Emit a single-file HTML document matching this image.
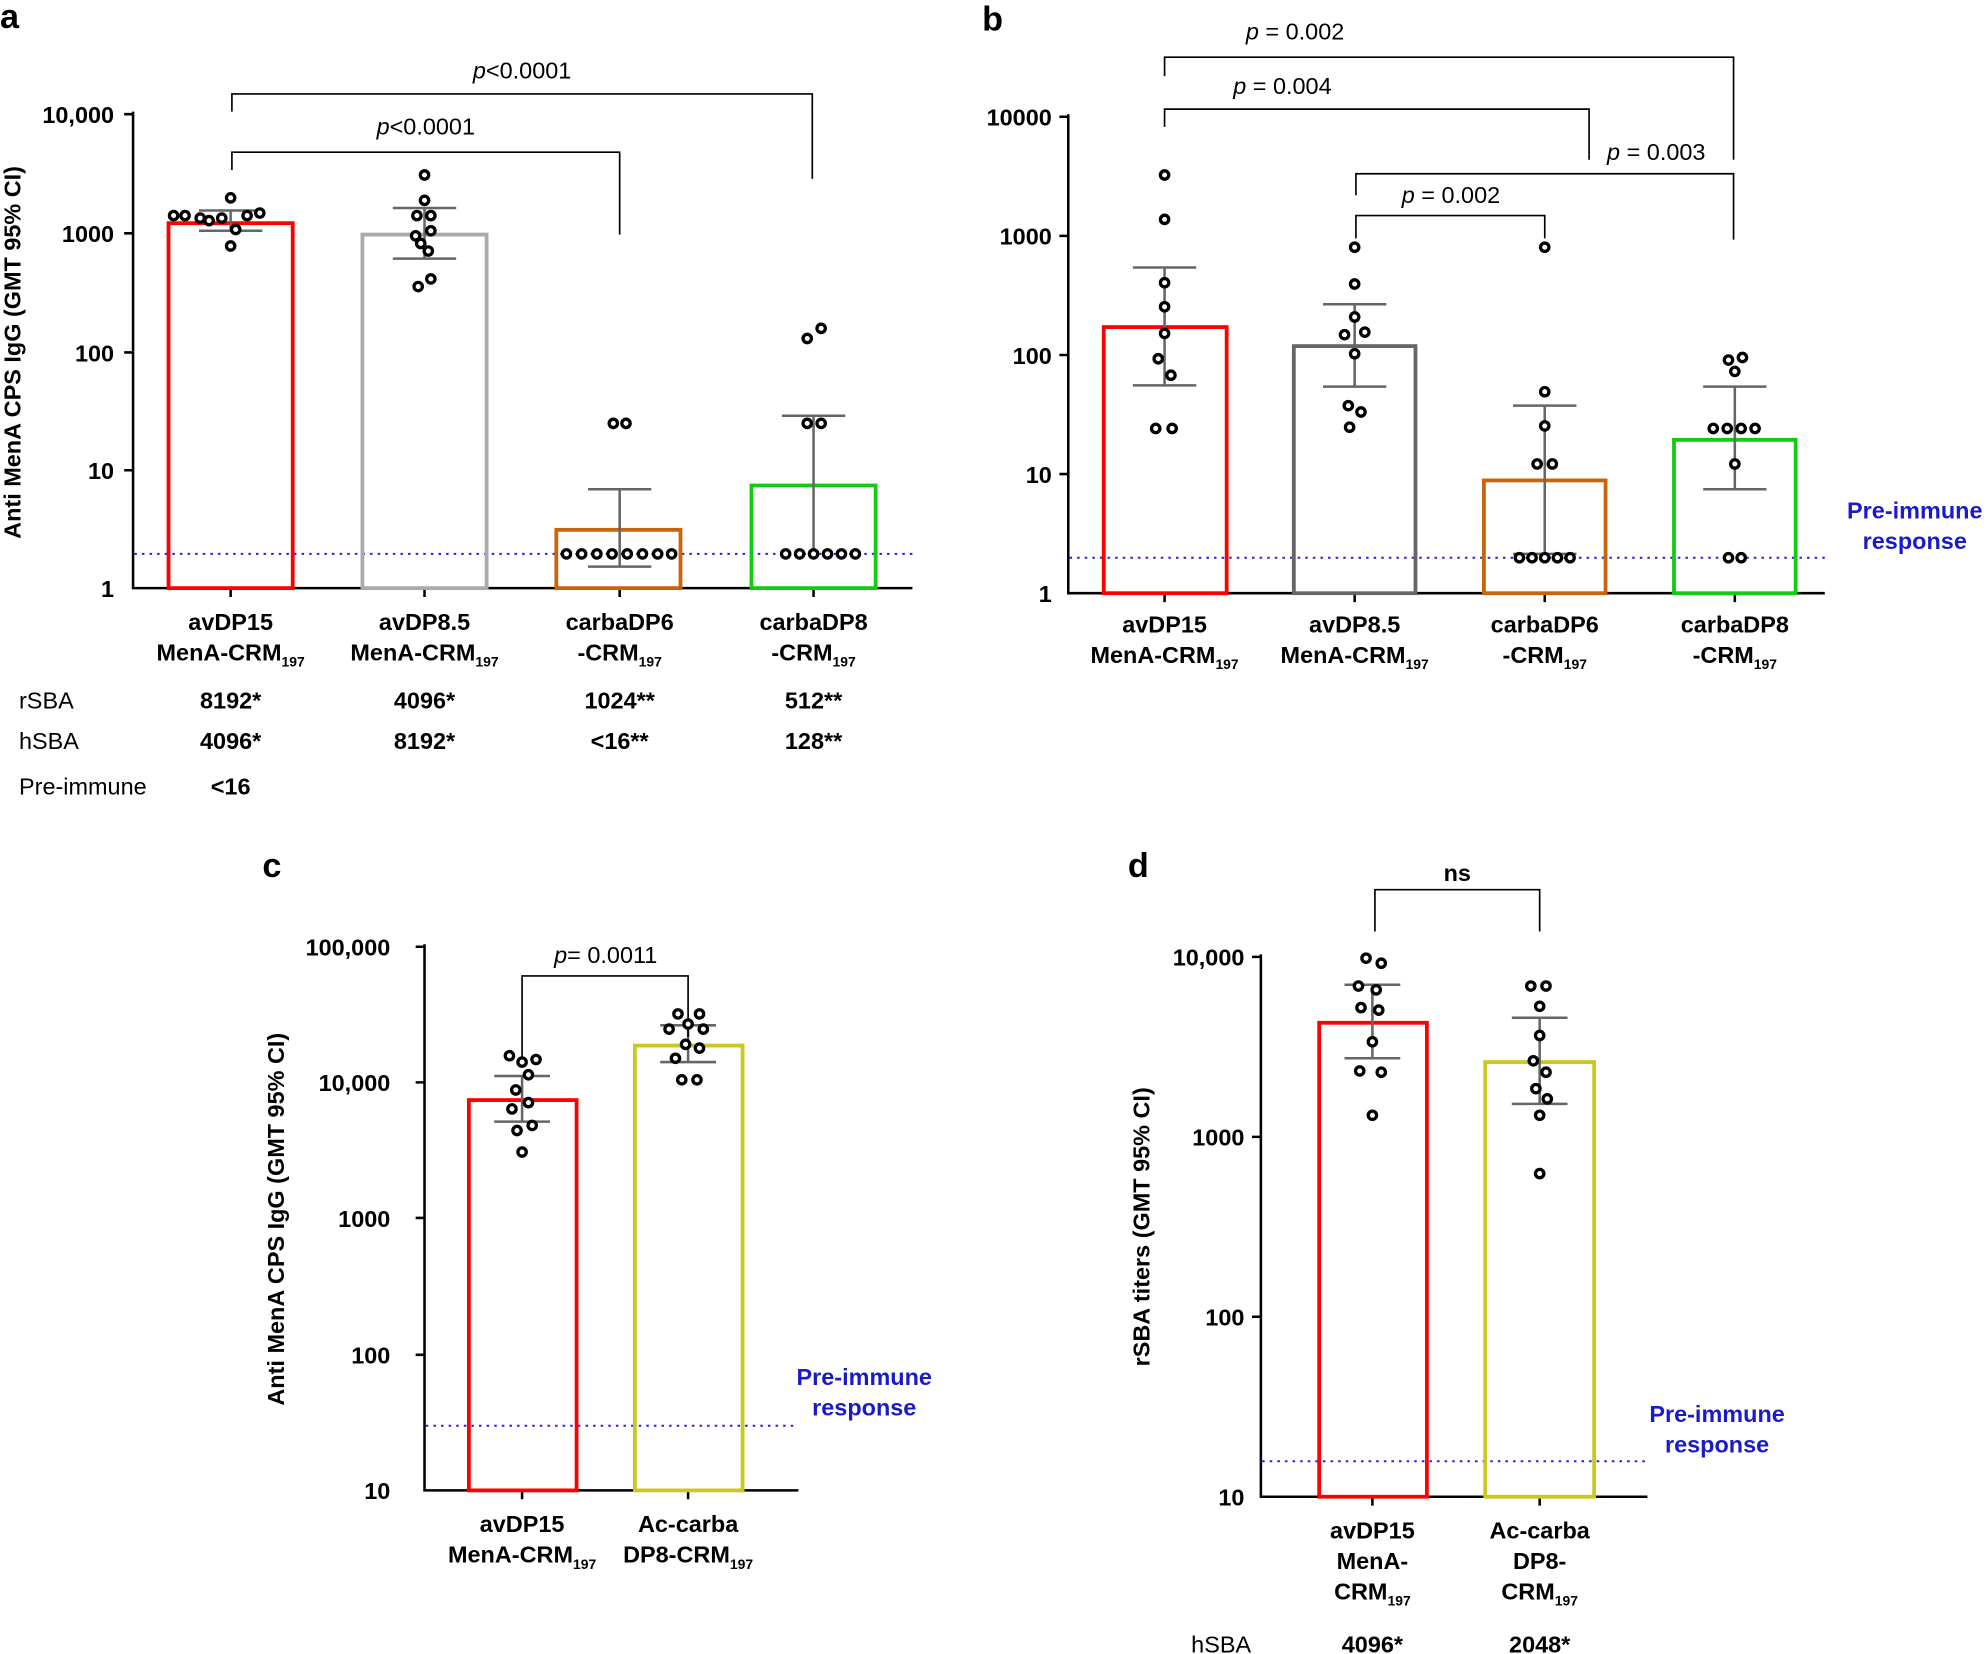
<!DOCTYPE html>
<html><head><meta charset="utf-8"><style>
html,body{margin:0;padding:0;background:#fff}
svg{display:block}
text{font-family:"Liberation Sans",Arial,sans-serif;fill:#000}
.b{font-weight:bold}
.pt{fill:#fff;stroke:#000;stroke-width:2.6}
.eb{stroke:#666;stroke-width:2;fill:none}
.ax{stroke:#000;stroke-width:2;fill:none}
.br{stroke:#000;stroke-width:1.3;fill:none}
.dot{stroke:#2222dd;stroke-width:1.6;stroke-dasharray:2,4}
</style></head><body>
<svg width="1987" height="1654" viewBox="0 0 1568 1305" xmlns="http://www.w3.org/2000/svg">
<!-- ===== Panel a ===== -->
<text x="0" y="22" font-size="27" class="b">a</text>
<text transform="translate(16,278) rotate(-90)" font-size="18.5" class="b" text-anchor="middle">Anti MenA CPS IgG (GMT 95% CI)</text>
<g font-size="18.5" class="b" text-anchor="end">
<text x="90" y="97">10,000</text><text x="90" y="191">1000</text><text x="90" y="285">100</text><text x="90" y="378">10</text><text x="90" y="471">1</text></g>
<path class="ax" d="M105,88V464H720M98,90H105M98,184H105M98,278H105M98,371H105M182,464v7M335,464v7M489,464v7M642,464v7"/>
<line class="dot" x1="106" y1="437" x2="720" y2="437"/>
<rect x="133" y="176" width="98" height="288" fill="none" stroke="#f00" stroke-width="3"/>
<rect x="286" y="185" width="98" height="279" fill="none" stroke="#aaa" stroke-width="3"/>
<rect x="439" y="418" width="98" height="46" fill="none" stroke="#c8640a" stroke-width="3"/>
<rect x="593" y="383" width="98" height="81" fill="none" stroke="#1c1" stroke-width="3"/>
<path class="eb" d="M182,166V182M157,166H207M157,182H207M335,164V204M310,164H360M310,204H360M489,386V447M464,386H514M464,447H514M642,328V437M617,328H667"/>
<path class="br" d="M183,88V74H641V141M183,134V120H489V185"/>
<text x="412" y="62" font-size="18.5" text-anchor="middle"><tspan font-style="italic">p</tspan>&lt;0.0001</text>
<text x="336" y="106" font-size="18.5" text-anchor="middle"><tspan font-style="italic">p</tspan>&lt;0.0001</text>
<g class="pt">
<circle cx="182" cy="156" r="3.3"/><circle cx="137" cy="170" r="3.3"/><circle cx="146" cy="170" r="3.3"/><circle cx="158" cy="172" r="3.3"/><circle cx="165" cy="174" r="3.3"/><circle cx="175" cy="172" r="3.3"/><circle cx="195" cy="170" r="3.3"/><circle cx="205" cy="168" r="3.3"/><circle cx="186" cy="181" r="3.3"/><circle cx="182" cy="194" r="3.3"/>
<circle cx="335" cy="138" r="3.3"/><circle cx="335" cy="158" r="3.3"/><circle cx="329" cy="170" r="3.3"/><circle cx="340" cy="170" r="3.3"/><circle cx="328" cy="186" r="3.3"/><circle cx="340" cy="182" r="3.3"/><circle cx="332" cy="192" r="3.3"/><circle cx="338" cy="198" r="3.3"/><circle cx="340" cy="220" r="3.3"/><circle cx="330" cy="226" r="3.3"/>
<circle cx="484" cy="334" r="3.3"/><circle cx="494" cy="334" r="3.3"/>
<circle cx="447" cy="437" r="3.3"/><circle cx="459" cy="437" r="3.3"/><circle cx="471" cy="437" r="3.3"/><circle cx="483" cy="437" r="3.3"/><circle cx="495" cy="437" r="3.3"/><circle cx="507" cy="437" r="3.3"/><circle cx="519" cy="437" r="3.3"/><circle cx="530" cy="437" r="3.3"/>
<circle cx="637" cy="267" r="3.3"/><circle cx="648" cy="259" r="3.3"/><circle cx="637" cy="334" r="3.3"/><circle cx="648" cy="334" r="3.3"/>
<circle cx="620" cy="437" r="3.3"/><circle cx="631" cy="437" r="3.3"/><circle cx="642" cy="437" r="3.3"/><circle cx="653" cy="437" r="3.3"/><circle cx="664" cy="437" r="3.3"/><circle cx="675" cy="437" r="3.3"/>
</g>
<g font-size="18.5" class="b" text-anchor="middle">
<text x="182" y="497">avDP15</text><text x="182" y="521">MenA-CRM<tspan font-size="11" dy="5">197</tspan></text>
<text x="335" y="497">avDP8.5</text><text x="335" y="521">MenA-CRM<tspan font-size="11" dy="5">197</tspan></text>
<text x="489" y="497">carbaDP6</text><text x="489" y="521">-CRM<tspan font-size="11" dy="5">197</tspan></text>
<text x="642" y="497">carbaDP8</text><text x="642" y="521">-CRM<tspan font-size="11" dy="5">197</tspan></text>
<text x="182" y="559">8192*</text><text x="335" y="559">4096*</text><text x="489" y="559">1024**</text><text x="642" y="559">512**</text>
<text x="182" y="591">4096*</text><text x="335" y="591">8192*</text><text x="489" y="591">&lt;16**</text><text x="642" y="591">128**</text>
<text x="182" y="627">&lt;16</text></g>
<g font-size="18.5"><text x="15" y="559">rSBA</text><text x="15" y="591">hSBA</text><text x="15" y="627">Pre-immune</text></g>

<!-- ===== Panel b ===== -->
<text x="775" y="24" font-size="27" class="b">b</text>
<g font-size="18.5" class="b" text-anchor="end">
<text x="830" y="99">10000</text><text x="830" y="193">1000</text><text x="830" y="287">100</text><text x="830" y="381">10</text><text x="830" y="475">1</text></g>
<path class="ax" d="M843,90V468H1440M836,92H843M836,186H843M836,280H843M836,374H843M919,468v7M1069,468v7M1219,468v7M1369,468v7"/>
<line class="dot" x1="844" y1="440" x2="1440" y2="440"/>
<rect x="871" y="258" width="97" height="210" fill="none" stroke="#f00" stroke-width="3"/>
<rect x="1021" y="273" width="96" height="195" fill="none" stroke="#666" stroke-width="3"/>
<rect x="1171" y="379" width="96" height="89" fill="none" stroke="#c8640a" stroke-width="3"/>
<rect x="1321" y="347" width="96" height="121" fill="none" stroke="#1c1" stroke-width="3"/>
<path class="eb" d="M919,211V304M894,211H944M894,304H944M1069,240V305M1044,240H1094M1044,305H1094M1219,320V437M1194,320H1244M1194,437H1244M1369,305V386M1344,305H1394M1344,386H1394"/>
<path class="br" d="M919,60V45H1368V126M919,100V86H1254V126M1070,154V137H1368V189M1070,188V170H1219V188"/>
<text x="1022" y="31" font-size="18.5" text-anchor="middle"><tspan font-style="italic">p</tspan> = 0.002</text>
<text x="1012" y="74" font-size="18.5" text-anchor="middle"><tspan font-style="italic">p</tspan> = 0.004</text>
<text x="1307" y="126" font-size="18.5" text-anchor="middle"><tspan font-style="italic">p</tspan> = 0.003</text>
<text x="1145" y="160" font-size="18.5" text-anchor="middle"><tspan font-style="italic">p</tspan> = 0.002</text>
<g class="pt">
<circle cx="919" cy="138" r="3.3"/><circle cx="919" cy="173" r="3.3"/><circle cx="919" cy="223" r="3.3"/><circle cx="919" cy="242" r="3.3"/><circle cx="919" cy="263" r="3.3"/><circle cx="914" cy="283" r="3.3"/><circle cx="924" cy="296" r="3.3"/><circle cx="912" cy="338" r="3.3"/><circle cx="925" cy="338" r="3.3"/>
<circle cx="1069" cy="195" r="3.3"/><circle cx="1069" cy="224" r="3.3"/><circle cx="1069" cy="250" r="3.3"/><circle cx="1061" cy="264" r="3.3"/><circle cx="1077" cy="262" r="3.3"/><circle cx="1069" cy="279" r="3.3"/><circle cx="1064" cy="320" r="3.3"/><circle cx="1074" cy="325" r="3.3"/><circle cx="1065" cy="337" r="3.3"/>
<circle cx="1219" cy="195" r="3.3"/><circle cx="1219" cy="309" r="3.3"/><circle cx="1219" cy="336" r="3.3"/><circle cx="1213" cy="366" r="3.3"/><circle cx="1225" cy="366" r="3.3"/>
<circle cx="1199" cy="440" r="3.3"/><circle cx="1209" cy="440" r="3.3"/><circle cx="1219" cy="440" r="3.3"/><circle cx="1229" cy="440" r="3.3"/><circle cx="1239" cy="440" r="3.3"/>
<circle cx="1364" cy="284" r="3.3"/><circle cx="1375" cy="282" r="3.3"/><circle cx="1369" cy="293" r="3.3"/><circle cx="1352" cy="338" r="3.3"/><circle cx="1363" cy="338" r="3.3"/><circle cx="1374" cy="338" r="3.3"/><circle cx="1385" cy="338" r="3.3"/><circle cx="1369" cy="366" r="3.3"/><circle cx="1364" cy="440" r="3.3"/><circle cx="1374" cy="440" r="3.3"/>
</g>
<g font-size="18.5" class="b" text-anchor="middle">
<text x="919" y="499">avDP15</text><text x="919" y="523">MenA-CRM<tspan font-size="11" dy="5">197</tspan></text>
<text x="1069" y="499">avDP8.5</text><text x="1069" y="523">MenA-CRM<tspan font-size="11" dy="5">197</tspan></text>
<text x="1219" y="499">carbaDP6</text><text x="1219" y="523">-CRM<tspan font-size="11" dy="5">197</tspan></text>
<text x="1369" y="499">carbaDP8</text><text x="1369" y="523">-CRM<tspan font-size="11" dy="5">197</tspan></text>
<text x="1511" y="409" style="fill:#1a1acc">Pre-immune</text><text x="1511" y="433" style="fill:#1a1acc">response</text></g>

<!-- ===== Panel c ===== -->
<text x="207" y="692" font-size="27" class="b">c</text>
<text transform="translate(224,962) rotate(-90)" font-size="18.5" class="b" text-anchor="middle">Anti MenA CPS IgG (GMT 95% CI)</text>
<g font-size="18.5" class="b" text-anchor="end">
<text x="308" y="754">100,000</text><text x="308" y="861">10,000</text><text x="308" y="968">1000</text><text x="308" y="1076">100</text><text x="308" y="1183">10</text></g>
<path class="ax" d="M335,745V1176H630M328,747H335M328,854H335M328,961H335M328,1069H335M412,1176v7M543,1176v7"/>
<line class="dot" x1="336" y1="1125" x2="630" y2="1125"/>
<rect x="370" y="868" width="85" height="308" fill="none" stroke="#f00" stroke-width="3"/>
<rect x="501" y="825" width="85" height="351" fill="none" stroke="#c8c81e" stroke-width="3"/>
<path class="eb" d="M412,849V885M390,849H434M390,885H434M543,809V838M521,809H565M521,838H565"/>
<path class="br" d="M412,838V770H543V818"/>
<text x="478" y="760" font-size="18.5" text-anchor="middle"><tspan font-style="italic">p</tspan>= 0.0011</text>
<g class="pt">
<circle cx="402" cy="833" r="3.3"/><circle cx="412" cy="838" r="3.3"/><circle cx="423" cy="836" r="3.3"/><circle cx="417" cy="848" r="3.3"/><circle cx="407" cy="860" r="3.3"/><circle cx="417" cy="870" r="3.3"/><circle cx="404" cy="875" r="3.3"/><circle cx="420" cy="888" r="3.3"/><circle cx="408" cy="892" r="3.3"/><circle cx="412" cy="909" r="3.3"/>
<circle cx="535" cy="800" r="3.3"/><circle cx="552" cy="800" r="3.3"/><circle cx="543" cy="808" r="3.3"/><circle cx="528" cy="812" r="3.3"/><circle cx="555" cy="812" r="3.3"/><circle cx="541" cy="824" r="3.3"/><circle cx="552" cy="827" r="3.3"/><circle cx="533" cy="835" r="3.3"/><circle cx="538" cy="852" r="3.3"/><circle cx="550" cy="852" r="3.3"/>
</g>
<g font-size="18.5" class="b" text-anchor="middle">
<text x="412" y="1209">avDP15</text><text x="412" y="1233">MenA-CRM<tspan font-size="11" dy="5">197</tspan></text>
<text x="543" y="1209">Ac-carba</text><text x="543" y="1233">DP8-CRM<tspan font-size="11" dy="5">197</tspan></text>
<text x="682" y="1093" style="fill:#1a1acc">Pre-immune</text><text x="682" y="1117" style="fill:#1a1acc">response</text></g>

<!-- ===== Panel d ===== -->
<text x="890" y="692" font-size="27" class="b">d</text>
<text transform="translate(907,968) rotate(-90)" font-size="18.5" class="b" text-anchor="middle">rSBA titers (GMT 95% CI)</text>
<g font-size="18.5" class="b" text-anchor="end">
<text x="982" y="762">10,000</text><text x="982" y="904">1000</text><text x="982" y="1046">100</text><text x="982" y="1188">10</text></g>
<path class="ax" d="M995,753V1181H1300M988,755H995M988,897H995M988,1039H995M1083,1181v7M1215,1181v7"/>
<line class="dot" x1="996" y1="1153" x2="1300" y2="1153"/>
<rect x="1041" y="807" width="85" height="374" fill="none" stroke="#f00" stroke-width="3"/>
<rect x="1172" y="838" width="86" height="343" fill="none" stroke="#c8c81e" stroke-width="3"/>
<path class="eb" d="M1083,777V835M1061,777H1105M1061,835H1105M1215,803V871M1193,803H1237M1193,871H1237"/>
<path class="br" d="M1085,735V702H1215V735"/>
<text x="1150" y="695" font-size="18.5" class="b" text-anchor="middle">ns</text>
<g class="pt">
<circle cx="1078" cy="756" r="3.3"/><circle cx="1090" cy="760" r="3.3"/><circle cx="1072" cy="778" r="3.3"/><circle cx="1086" cy="781" r="3.3"/><circle cx="1074" cy="795" r="3.3"/><circle cx="1088" cy="797" r="3.3"/><circle cx="1083" cy="822" r="3.3"/><circle cx="1073" cy="845" r="3.3"/><circle cx="1090" cy="846" r="3.3"/><circle cx="1083" cy="880" r="3.3"/>
<circle cx="1208" cy="778" r="3.3"/><circle cx="1220" cy="778" r="3.3"/><circle cx="1215" cy="794" r="3.3"/><circle cx="1215" cy="817" r="3.3"/><circle cx="1210" cy="837" r="3.3"/><circle cx="1220" cy="846" r="3.3"/><circle cx="1212" cy="859" r="3.3"/><circle cx="1221" cy="867" r="3.3"/><circle cx="1215" cy="880" r="3.3"/><circle cx="1215" cy="926" r="3.3"/>
</g>
<g font-size="18.5" class="b" text-anchor="middle">
<text x="1083" y="1214">avDP15</text><text x="1083" y="1238">MenA-</text><text x="1083" y="1262">CRM<tspan font-size="11" dy="5">197</tspan></text>
<text x="1215" y="1214">Ac-carba</text><text x="1215" y="1238">DP8-</text><text x="1215" y="1262">CRM<tspan font-size="11" dy="5">197</tspan></text>
<text x="1083" y="1304">4096*</text><text x="1215" y="1304">2048*</text>
<text x="1355" y="1122" style="fill:#1a1acc">Pre-immune</text><text x="1355" y="1146" style="fill:#1a1acc">response</text></g>
<text x="940" y="1304" font-size="18.5">hSBA</text>
</svg>
</body></html>
